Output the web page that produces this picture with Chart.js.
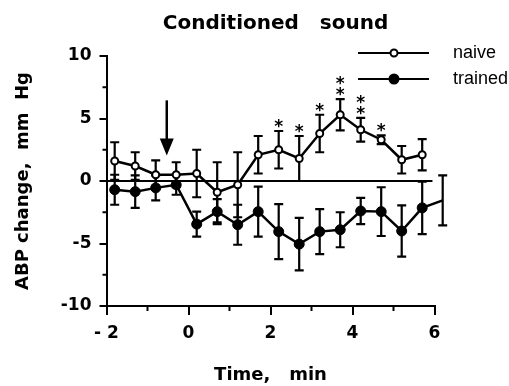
<!DOCTYPE html>
<html>
<head>
<meta charset="utf-8">
<script src="https://cdn.jsdelivr.net/npm/chart.js@4.4.1/dist/chart.umd.min.js"></script>
<style>
  html, body { margin: 0; padding: 0; background: #fff; }
  #wrap { width: 509px; height: 386px; }
</style>
</head>
<body>
<div id="wrap"><canvas id="abpChart" width="509" height="386"></canvas></div>
<script>
// ---------- DATA ----------
const timeNaive = [-1.8, -1.3, -0.8, -0.3, 0.2, 0.7, 1.2, 1.7, 2.2, 2.7, 3.2, 3.7, 4.2, 4.7, 5.2, 5.7];
const naiveMean = [1.6, 1.2, 0.5, 0.5, 0.6, -0.9, -0.3, 2.1, 2.5, 1.8, 3.8, 5.3, 4.1, 3.3, 1.7, 2.1];
const naiveSem  = [1.5, 1.1, 1.15, 1.0, 1.9, 2.4, 2.6, 1.5, 1.5, 1.8, 1.5, 1.25, 0.95, 0.35, 1.1, 1.25];
const naiveStars = [0, 0, 0, 0, 0, 0, 0, 0, 1, 1, 1, 2, 2, 1, 0, 0];

const timeTrained = [-1.8, -1.3, -0.8, -0.3, 0.2, 0.7, 1.2, 1.7, 2.2, 2.7, 3.2, 3.7, 4.2, 4.7, 5.2, 5.7, 6.2];
const trainedMean = [-0.7, -0.85, -0.55, -0.3, -3.45, -2.45, -3.5, -2.45, -4.05, -5.05, -4.05, -3.9, -2.4, -2.45, -4.0, -2.15, -1.55];
const trainedSem  = [1.2, 1.3, 1.0, 0.8, 1.0, 1.0, 1.6, 2.0, 2.2, 2.1, 1.8, 1.4, 1.05, 1.95, 2.05, 2.1, 2.0];

const zeroLineX = [-2, 5.95];
const arrowX = -0.53;
const arrowFrom = 6.45;
const arrowTo = 2.05;

const xTicks = [-2, 0, 2, 4, 6];
const xTickLabels = ["- 2", "0", "2", "4", "6"];
const xMinorTicks = [-1, 1, 3, 5];
const yTicks = [-10, -5, 0, 5, 10];
const yMinorTicks = [-7.5, -2.5, 2.5, 7.5];

const FONT = "'DejaVu Sans', sans-serif";

// ---------- EXTRA DRAWING ----------
const extras = {
    id: "extras",
    beforeDatasetsDraw(chart) {
        const ctx = chart.ctx;
        const x = chart.scales.x;
        const y = chart.scales.y;
        ctx.save();
        ctx.strokeStyle = "#000";
        ctx.lineWidth = 2.2;

        // error bars
        const bars = (ts, ms, ss) => {
            ts.forEach((t, i) => {
                const px = x.getPixelForValue(t);
                const top = y.getPixelForValue(ms[i] + ss[i]);
                const bot = y.getPixelForValue(ms[i] - ss[i]);
                ctx.beginPath();
                ctx.moveTo(px, top); ctx.lineTo(px, bot);
                ctx.moveTo(px - 4.5, top); ctx.lineTo(px + 4.5, top);
                ctx.moveTo(px - 4.5, bot); ctx.lineTo(px + 4.5, bot);
                ctx.stroke();
            });
        };
        bars(timeTrained, trainedMean, trainedSem);
        bars(timeNaive, naiveMean, naiveSem);

        // minor ticks
        ctx.lineWidth = 2;
        ctx.beginPath();
        xMinorTicks.forEach(v => {
            const px = x.getPixelForValue(v);
            ctx.moveTo(px, y.bottom); ctx.lineTo(px, y.bottom + 5);
        });
        yMinorTicks.forEach(v => {
            const py = y.getPixelForValue(v);
            ctx.moveTo(x.left, py); ctx.lineTo(x.left - 4, py);
        });
        ctx.stroke();

        // arrow
        const ax = x.getPixelForValue(arrowX);
        const a0 = y.getPixelForValue(arrowFrom);
        const a1 = y.getPixelForValue(arrowTo);
        ctx.lineWidth = 2.5;
        ctx.beginPath();
        ctx.moveTo(ax, a0); ctx.lineTo(ax, a1 - 10);
        ctx.stroke();
        ctx.fillStyle = "#000";
        ctx.beginPath();
        ctx.moveTo(ax - 7, a1 - 17);
        ctx.lineTo(ax + 7, a1 - 17);
        ctx.lineTo(ax, a1);
        ctx.closePath();
        ctx.fill();

        // significance stars
        ctx.font = "bold 17px " + FONT;
        ctx.textAlign = "center";
        ctx.textBaseline = "alphabetic";
        timeNaive.forEach((t, i) => {
            const px = x.getPixelForValue(t);
            const top = y.getPixelForValue(naiveMean[i] + naiveSem[i]);
            for (let k = 0; k < naiveStars[i]; k++) {
                ctx.fillText("*", px, top - 1 - k * 11 + 2);
            }
        });
        ctx.restore();
    },
    afterDraw(chart) {
        const ctx = chart.ctx;
        ctx.save();
        ctx.fillStyle = "#000";
        ctx.strokeStyle = "#000";

        // title
        ctx.font = "bold 20px " + FONT;
        ctx.textAlign = "center";
        ctx.textBaseline = "middle";
        ctx.fillText("Conditioned   sound", 275.5, 24);

        // legend
        const rows = [["naive", 53, false], ["trained", 79, true]];
        rows.forEach(([label, ly, filled]) => {
            ctx.lineWidth = 2;
            ctx.beginPath();
            ctx.moveTo(358, ly); ctx.lineTo(429, ly);
            ctx.stroke();
            ctx.beginPath();
            ctx.arc(394, ly, filled ? 4.5 : 3.5, 0, Math.PI * 2);
            ctx.fillStyle = filled ? "#000" : "#fff";
            ctx.fill();
            ctx.stroke();
            ctx.fillStyle = "#000";
            ctx.font = "18px 'Liberation Sans', Arial, sans-serif";
            ctx.textAlign = "left";
            ctx.fillText(label, 453, ly);
        });
        ctx.restore();
    }
};

// ---------- CHART ----------
const toXY = (ts, ms) => ts.map((t, i) => ({ x: t, y: ms[i] }));

new Chart(document.getElementById("abpChart"), {
    type: "scatter",
    data: {
        datasets: [
            {
                label: "zero",
                data: zeroLineX.map(v => ({ x: v, y: 0 })),
                showLine: true,
                borderColor: "#000",
                borderWidth: 2,
                pointRadius: 0
            },
            {
                label: "trained",
                data: toXY(timeTrained, trainedMean),
                showLine: true,
                borderColor: "#000",
                borderWidth: 2.5,
                backgroundColor: "#000",
                pointRadius: 5,
                pointBorderWidth: 1,
                clip: false
            },
            {
                label: "naive",
                data: toXY(timeNaive, naiveMean),
                showLine: true,
                borderColor: "#000",
                borderWidth: 2.5,
                pointBackgroundColor: "#fff",
                pointBorderColor: "#000",
                pointRadius: 3.5,
                pointBorderWidth: 2,
                clip: false
            }
        ]
    },
    options: {
        responsive: false,
        animation: false,
        layout: { padding: { left: 0, right: 74.5, top: 56, bottom: 0 } },
        plugins: {
            legend: { display: false },
            title: { display: false },
            tooltip: { enabled: false }
        },
        scales: {
            x: {
                type: "linear",
                min: -2,
                max: 6,
                afterBuildTicks: s => { s.ticks = xTicks.map(v => ({ value: v })); },
                afterFit: s => { s.height = 80; },
                ticks: {
                    color: "#000",
                    font: { family: FONT, size: 17, weight: "bold" },
                    padding: 8,
                    callback: v => xTickLabels[xTicks.indexOf(v)]
                },
                grid: { drawOnChartArea: false, color: "#000", lineWidth: 2, tickLength: 9 },
                border: { color: "#000", width: 2 },
                title: {
                    display: true,
                    text: "Time,   min",
                    color: "#000",
                    font: { family: FONT, size: 18, weight: "bold" },
                    padding: { top: 0, bottom: 0 }
                }
            },
            y: {
                type: "linear",
                min: -10,
                max: 10,
                afterBuildTicks: s => { s.ticks = yTicks.map(v => ({ value: v })); },
                afterFit: s => { s.width = 106.5; },
                ticks: {
                    color: "#000",
                    font: { family: FONT, size: 17, weight: "bold" },
                    padding: 8
                },
                grid: { drawOnChartArea: false, color: "#000", lineWidth: 2, tickLength: 7 },
                border: { color: "#000", width: 2 },
                title: {
                    display: true,
                    text: "ABP change,  mm  Hg",
                    color: "#000",
                    font: { family: FONT, size: 18, weight: "bold" },
                    padding: { top: 13, bottom: 0 }
                }
            }
        }
    },
    plugins: [extras]
});
</script>
</body>
</html>
